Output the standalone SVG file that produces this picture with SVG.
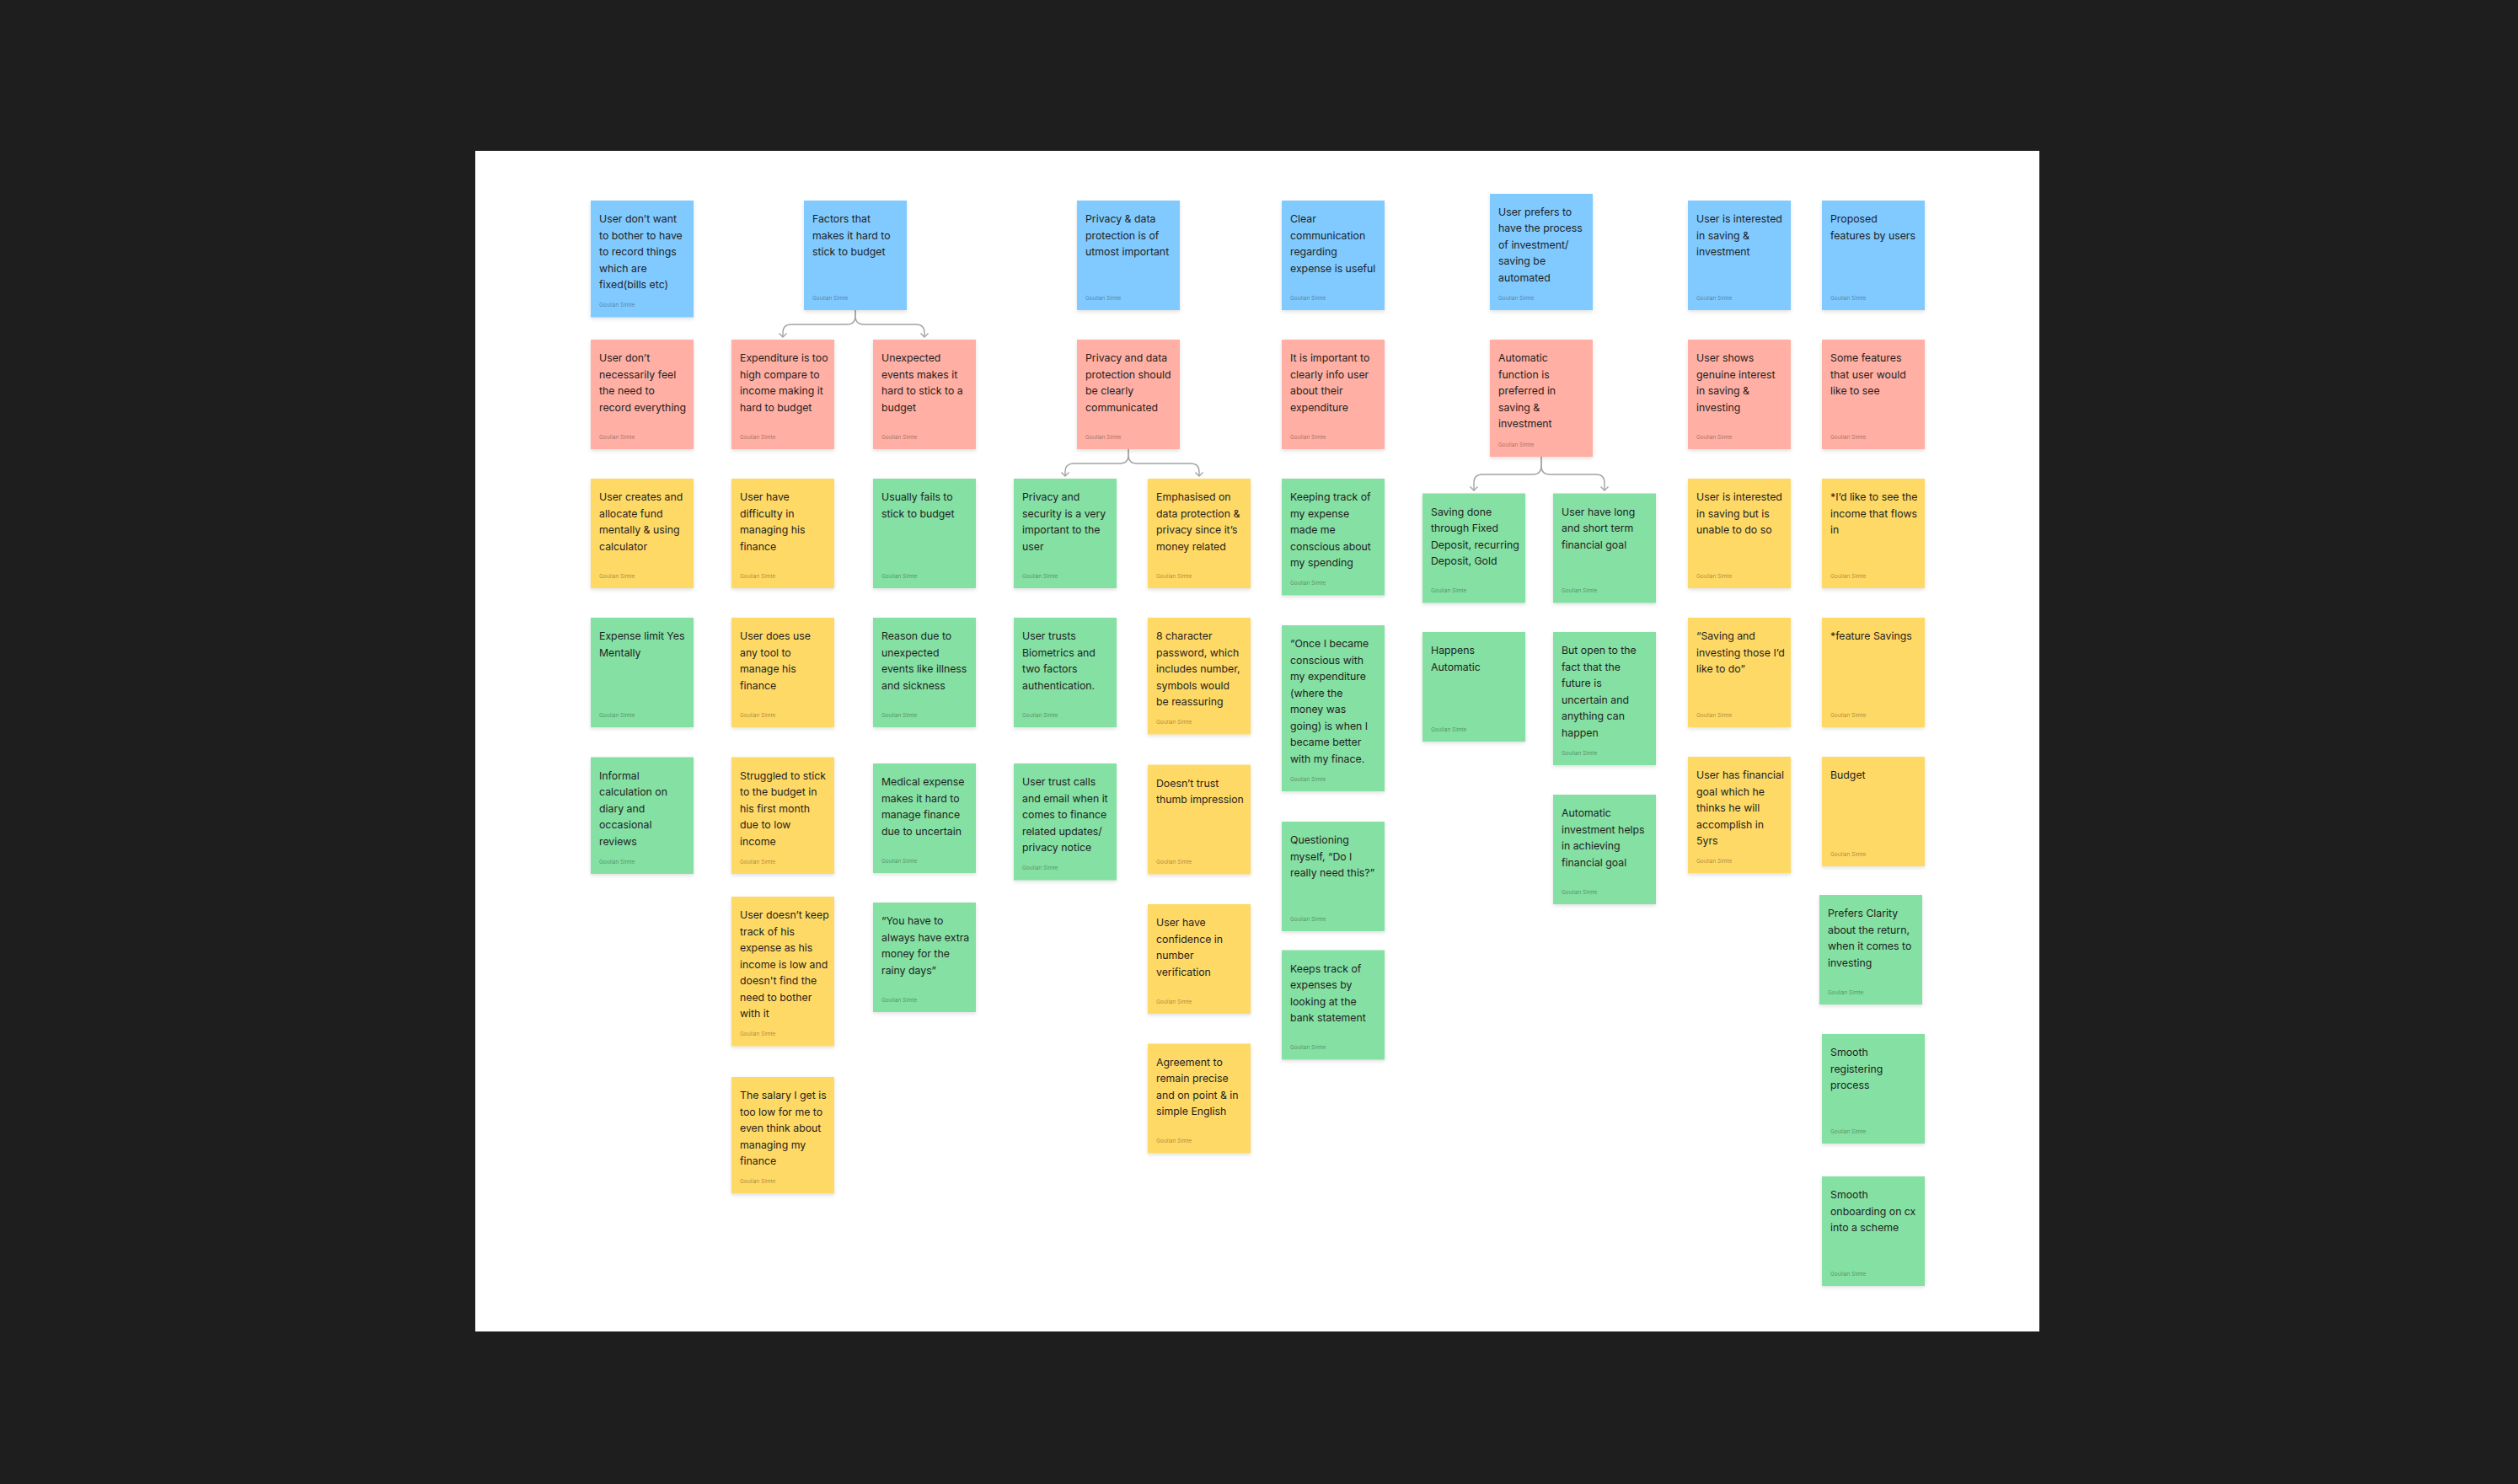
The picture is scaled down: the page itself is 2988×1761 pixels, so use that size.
<svg xmlns="http://www.w3.org/2000/svg" width="2988" height="1761" viewBox="0 0 2988 1761">
<style>
.bg{fill:#1e1e1e}
.board{fill:#ffffff}
.sticky{filter:url(#sh)}
.blue{fill:#80caff}
.red{fill:#ffafa3}
.yellow{fill:#ffd966}
.green{fill:#85e0a3}
.t{font-family:Inter,"Noto Sans","Liberation Sans",sans-serif;font-size:12.3px;fill:#1e1e1e}
.a{font-family:Inter,"Noto Sans","Liberation Sans",sans-serif;font-size:6.5px;fill:#000;fill-opacity:0.4}
.conn{fill:none;stroke:#a3a3a3;stroke-width:1.4}
</style>
<defs>
<filter id="sh" x="-10%" y="-10%" width="120%" height="130%">
<feDropShadow dx="0" dy="2" stdDeviation="2" flood-color="#000" flood-opacity="0.12"/>
</filter>
<marker id="arr" viewBox="-6 -6 12 12" markerWidth="12" markerHeight="12" markerUnits="userSpaceOnUse" orient="auto" refX="0" refY="0">
<path d="M-4.5,-4.5 L0,0 L-4.5,4.5" fill="none" stroke="#a3a3a3" stroke-width="1.4"/>
</marker>
</defs>
<rect class="bg" x="0" y="0" width="2988" height="1761"/>
<rect class="board" x="564" y="179" width="1856" height="1401"/>

<g id="connectors">
<path class="conn" marker-end="url(#arr)" d="M1015,368 L1015,375 Q1015,385 1005,385 L939,385 Q929,385 929,395 L929,400"/>
<path class="conn" marker-end="url(#arr)" d="M1015,368 L1015,375 Q1015,385 1025,385 L1087,385 Q1097,385 1097,395 L1097,400"/>
<path class="conn" marker-end="url(#arr)" d="M1339,533 L1339,540 Q1339,550 1329,550 L1274,550 Q1264,550 1264,560 L1264,565"/>
<path class="conn" marker-end="url(#arr)" d="M1339,533 L1339,540 Q1339,550 1349,550 L1413,550 Q1423,550 1423,560 L1423,565"/>
<path class="conn" marker-end="url(#arr)" d="M1829,542 L1829,553 Q1829,563 1819,563 L1759,563 Q1749,563 1749,573 L1749,582"/>
<path class="conn" marker-end="url(#arr)" d="M1829,542 L1829,553 Q1829,563 1839,563 L1894,563 Q1904,563 1904,573 L1904,582"/>
</g>

<!-- Column 1 -->
<g id="n1" transform="translate(701,238)"><rect class="sticky blue" width="122" height="138.5"/><text class="t" x="10" y="26"><tspan x="10">User don’t want</tspan><tspan x="10" dy="19.5">to bother to have</tspan><tspan x="10" dy="19.5">to record things</tspan><tspan x="10" dy="19.5">which are</tspan><tspan x="10" dy="19.5">fixed(bills etc)</tspan></text><text class="a" x="10" y="126">Goulian Simte</text></g>
<g id="n2" transform="translate(701,403)"><rect class="sticky red" width="122" height="130"/><text class="t" x="10" y="26"><tspan x="10">User don’t</tspan><tspan x="10" dy="19.5">necessarily feel</tspan><tspan x="10" dy="19.5">the need to</tspan><tspan x="10" dy="19.5">record everything</tspan></text><text class="a" x="10" y="117.5">Goulian Simte</text></g>
<g id="n3" transform="translate(701,568)"><rect class="sticky yellow" width="122" height="130"/><text class="t" x="10" y="26"><tspan x="10">User creates and</tspan><tspan x="10" dy="19.5">allocate fund</tspan><tspan x="10" dy="19.5">mentally &amp; using</tspan><tspan x="10" dy="19.5">calculator</tspan></text><text class="a" x="10" y="117.5">Goulian Simte</text></g>
<g id="n4" transform="translate(701,733)"><rect class="sticky green" width="122" height="130"/><text class="t" x="10" y="26"><tspan x="10">Expense limit Yes</tspan><tspan x="10" dy="19.5">Mentally</tspan></text><text class="a" x="10" y="117.5">Goulian Simte</text></g>
<g id="n5" transform="translate(701,898.5)"><rect class="sticky green" width="122" height="138.5"/><text class="t" x="10" y="26"><tspan x="10">Informal</tspan><tspan x="10" dy="19.5">calculation on</tspan><tspan x="10" dy="19.5">diary and</tspan><tspan x="10" dy="19.5">occasional</tspan><tspan x="10" dy="19.5">reviews</tspan></text><text class="a" x="10" y="126">Goulian Simte</text></g>

<!-- Column 2 -->
<g id="n6" transform="translate(954,238)"><rect class="sticky blue" width="122" height="130"/><text class="t" x="10" y="26"><tspan x="10">Factors that</tspan><tspan x="10" dy="19.5">makes it hard to</tspan><tspan x="10" dy="19.5">stick to budget</tspan></text><text class="a" x="10" y="117.5">Goulian Simte</text></g>
<g id="n7" transform="translate(868,403)"><rect class="sticky red" width="122" height="130"/><text class="t" x="10" y="26"><tspan x="10">Expenditure is too</tspan><tspan x="10" dy="19.5">high compare to</tspan><tspan x="10" dy="19.5">income making it</tspan><tspan x="10" dy="19.5">hard to budget</tspan></text><text class="a" x="10" y="117.5">Goulian Simte</text></g>
<g id="n8" transform="translate(868,568)"><rect class="sticky yellow" width="122" height="130"/><text class="t" x="10" y="26"><tspan x="10">User have</tspan><tspan x="10" dy="19.5">difficulty in</tspan><tspan x="10" dy="19.5">managing his</tspan><tspan x="10" dy="19.5">finance</tspan></text><text class="a" x="10" y="117.5">Goulian Simte</text></g>
<g id="n9" transform="translate(868,733)"><rect class="sticky yellow" width="122" height="130"/><text class="t" x="10" y="26"><tspan x="10">User does use</tspan><tspan x="10" dy="19.5">any tool to</tspan><tspan x="10" dy="19.5">manage his</tspan><tspan x="10" dy="19.5">finance</tspan></text><text class="a" x="10" y="117.5">Goulian Simte</text></g>
<g id="n10" transform="translate(868,898.5)"><rect class="sticky yellow" width="122" height="138.5"/><text class="t" x="10" y="26"><tspan x="10">Struggled to stick</tspan><tspan x="10" dy="19.5">to the budget in</tspan><tspan x="10" dy="19.5">his first month</tspan><tspan x="10" dy="19.5">due to low</tspan><tspan x="10" dy="19.5">income</tspan></text><text class="a" x="10" y="126">Goulian Simte</text></g>
<g id="n11" transform="translate(868,1064)"><rect class="sticky yellow" width="122" height="177.5"/><text class="t" x="10" y="26"><tspan x="10">User doesn’t keep</tspan><tspan x="10" dy="19.5">track of his</tspan><tspan x="10" dy="19.5">expense as his</tspan><tspan x="10" dy="19.5">income is low and</tspan><tspan x="10" dy="19.5">doesn't find the</tspan><tspan x="10" dy="19.5">need to bother</tspan><tspan x="10" dy="19.5">with it</tspan></text><text class="a" x="10" y="165">Goulian Simte</text></g>
<g id="n12" transform="translate(868,1278)"><rect class="sticky yellow" width="122" height="138.5"/><text class="t" x="10" y="26"><tspan x="10">The salary I get is</tspan><tspan x="10" dy="19.5">too low for me to</tspan><tspan x="10" dy="19.5">even think about</tspan><tspan x="10" dy="19.5">managing my</tspan><tspan x="10" dy="19.5">finance</tspan></text><text class="a" x="10" y="126">Goulian Simte</text></g>

<!-- Column 3 -->
<g id="n13" transform="translate(1036,403)"><rect class="sticky red" width="122" height="130"/><text class="t" x="10" y="26"><tspan x="10">Unexpected</tspan><tspan x="10" dy="19.5">events makes it</tspan><tspan x="10" dy="19.5">hard to stick to a</tspan><tspan x="10" dy="19.5">budget</tspan></text><text class="a" x="10" y="117.5">Goulian Simte</text></g>
<g id="n14" transform="translate(1036,568)"><rect class="sticky green" width="122" height="130"/><text class="t" x="10" y="26"><tspan x="10">Usually fails to</tspan><tspan x="10" dy="19.5">stick to budget</tspan></text><text class="a" x="10" y="117.5">Goulian Simte</text></g>
<g id="n15" transform="translate(1036,733)"><rect class="sticky green" width="122" height="130"/><text class="t" x="10" y="26"><tspan x="10">Reason due to</tspan><tspan x="10" dy="19.5">unexpected</tspan><tspan x="10" dy="19.5">events like illness</tspan><tspan x="10" dy="19.5">and sickness</tspan></text><text class="a" x="10" y="117.5">Goulian Simte</text></g>
<g id="n16" transform="translate(1036,906)"><rect class="sticky green" width="122" height="130"/><text class="t" x="10" y="26"><tspan x="10">Medical expense</tspan><tspan x="10" dy="19.5">makes it hard to</tspan><tspan x="10" dy="19.5">manage finance</tspan><tspan x="10" dy="19.5">due to uncertain</tspan></text><text class="a" x="10" y="117.5">Goulian Simte</text></g>
<g id="n17" transform="translate(1036,1071)"><rect class="sticky green" width="122" height="130"/><text class="t" x="10" y="26"><tspan x="10">“You have to</tspan><tspan x="10" dy="19.5">always have extra</tspan><tspan x="10" dy="19.5">money for the</tspan><tspan x="10" dy="19.5">rainy days”</tspan></text><text class="a" x="10" y="117.5">Goulian Simte</text></g>

<!-- Column 4 -->
<g id="n18" transform="translate(1278,238)"><rect class="sticky blue" width="122" height="130"/><text class="t" x="10" y="26"><tspan x="10">Privacy &amp; data</tspan><tspan x="10" dy="19.5">protection is of</tspan><tspan x="10" dy="19.5">utmost important</tspan></text><text class="a" x="10" y="117.5">Goulian Simte</text></g>
<g id="n19" transform="translate(1278,403)"><rect class="sticky red" width="122" height="130"/><text class="t" x="10" y="26"><tspan x="10">Privacy and data</tspan><tspan x="10" dy="19.5">protection should</tspan><tspan x="10" dy="19.5">be clearly</tspan><tspan x="10" dy="19.5">communicated</tspan></text><text class="a" x="10" y="117.5">Goulian Simte</text></g>
<g id="n20" transform="translate(1203,568)"><rect class="sticky green" width="122" height="130"/><text class="t" x="10" y="26"><tspan x="10">Privacy and</tspan><tspan x="10" dy="19.5">security is a very</tspan><tspan x="10" dy="19.5">important to the</tspan><tspan x="10" dy="19.5">user</tspan></text><text class="a" x="10" y="117.5">Goulian Simte</text></g>
<g id="n21" transform="translate(1203,733)"><rect class="sticky green" width="122" height="130"/><text class="t" x="10" y="26"><tspan x="10">User trusts</tspan><tspan x="10" dy="19.5">Biometrics and</tspan><tspan x="10" dy="19.5">two factors</tspan><tspan x="10" dy="19.5">authentication.</tspan></text><text class="a" x="10" y="117.5">Goulian Simte</text></g>
<g id="n22" transform="translate(1203,906)"><rect class="sticky green" width="122" height="138.5"/><text class="t" x="10" y="26"><tspan x="10">User trust calls</tspan><tspan x="10" dy="19.5">and email when it</tspan><tspan x="10" dy="19.5">comes to finance</tspan><tspan x="10" dy="19.5">related updates/</tspan><tspan x="10" dy="19.5">privacy notice</tspan></text><text class="a" x="10" y="126">Goulian Simte</text></g>

<!-- Column 5 -->
<g id="n23" transform="translate(1362,568)"><rect class="sticky yellow" width="122" height="130"/><text class="t" x="10" y="26"><tspan x="10">Emphasised on</tspan><tspan x="10" dy="19.5">data protection &amp;</tspan><tspan x="10" dy="19.5">privacy since it’s</tspan><tspan x="10" dy="19.5">money related</tspan></text><text class="a" x="10" y="117.5">Goulian Simte</text></g>
<g id="n24" transform="translate(1362,733)"><rect class="sticky yellow" width="122" height="138.5"/><text class="t" x="10" y="26"><tspan x="10">8 character</tspan><tspan x="10" dy="19.5">password, which</tspan><tspan x="10" dy="19.5">includes number,</tspan><tspan x="10" dy="19.5">symbols would</tspan><tspan x="10" dy="19.5">be reassuring</tspan></text><text class="a" x="10" y="126">Goulian Simte</text></g>
<g id="n25" transform="translate(1362,907.5)"><rect class="sticky yellow" width="122" height="130"/><text class="t" x="10" y="26"><tspan x="10">Doesn’t trust</tspan><tspan x="10" dy="19.5">thumb impression</tspan></text><text class="a" x="10" y="117.5">Goulian Simte</text></g>
<g id="n26" transform="translate(1362,1073)"><rect class="sticky yellow" width="122" height="130"/><text class="t" x="10" y="26"><tspan x="10">User have</tspan><tspan x="10" dy="19.5">confidence in</tspan><tspan x="10" dy="19.5">number</tspan><tspan x="10" dy="19.5">verification</tspan></text><text class="a" x="10" y="117.5">Goulian Simte</text></g>
<g id="n27" transform="translate(1362,1238.5)"><rect class="sticky yellow" width="122" height="130"/><text class="t" x="10" y="26"><tspan x="10">Agreement to</tspan><tspan x="10" dy="19.5">remain precise</tspan><tspan x="10" dy="19.5">and on point &amp; in</tspan><tspan x="10" dy="19.5">simple English</tspan></text><text class="a" x="10" y="117.5">Goulian Simte</text></g>

<!-- Column 6 -->
<g id="n28" transform="translate(1521,238)"><rect class="sticky blue" width="122" height="130"/><text class="t" x="10" y="26"><tspan x="10">Clear</tspan><tspan x="10" dy="19.5">communication</tspan><tspan x="10" dy="19.5">regarding</tspan><tspan x="10" dy="19.5">expense is useful</tspan></text><text class="a" x="10" y="117.5">Goulian Simte</text></g>
<g id="n29" transform="translate(1521,403)"><rect class="sticky red" width="122" height="130"/><text class="t" x="10" y="26"><tspan x="10">It is important to</tspan><tspan x="10" dy="19.5">clearly info user</tspan><tspan x="10" dy="19.5">about their</tspan><tspan x="10" dy="19.5">expenditure</tspan></text><text class="a" x="10" y="117.5">Goulian Simte</text></g>
<g id="n30" transform="translate(1521,568)"><rect class="sticky green" width="122" height="138.5"/><text class="t" x="10" y="26"><tspan x="10">Keeping track of</tspan><tspan x="10" dy="19.5">my expense</tspan><tspan x="10" dy="19.5">made me</tspan><tspan x="10" dy="19.5">conscious about</tspan><tspan x="10" dy="19.5">my spending</tspan></text><text class="a" x="10" y="126">Goulian Simte</text></g>
<g id="n31" transform="translate(1521,742)"><rect class="sticky green" width="122" height="197"/><text class="t" x="10" y="26"><tspan x="10">“Once I became</tspan><tspan x="10" dy="19.5">conscious with</tspan><tspan x="10" dy="19.5">my expenditure</tspan><tspan x="10" dy="19.5">(where the</tspan><tspan x="10" dy="19.5">money was</tspan><tspan x="10" dy="19.5">going) is when I</tspan><tspan x="10" dy="19.5">became better</tspan><tspan x="10" dy="19.5">with my finace.</tspan></text><text class="a" x="10" y="184.5">Goulian Simte</text></g>
<g id="n32" transform="translate(1521,975)"><rect class="sticky green" width="122" height="130"/><text class="t" x="10" y="26"><tspan x="10">Questioning</tspan><tspan x="10" dy="19.5">myself, “Do I</tspan><tspan x="10" dy="19.5">really need this?”</tspan></text><text class="a" x="10" y="117.5">Goulian Simte</text></g>
<g id="n33" transform="translate(1521,1127.5)"><rect class="sticky green" width="122" height="130"/><text class="t" x="10" y="26"><tspan x="10">Keeps track of</tspan><tspan x="10" dy="19.5">expenses by</tspan><tspan x="10" dy="19.5">looking at the</tspan><tspan x="10" dy="19.5">bank statement</tspan></text><text class="a" x="10" y="117.5">Goulian Simte</text></g>

<!-- Column 7/8 -->
<g id="n34" transform="translate(1768,230)"><rect class="sticky blue" width="122" height="138"/><text class="t" x="10" y="25.5"><tspan x="10">User prefers to</tspan><tspan x="10" dy="19.5">have the process</tspan><tspan x="10" dy="19.5">of investment/</tspan><tspan x="10" dy="19.5">saving be</tspan><tspan x="10" dy="19.5">automated</tspan></text><text class="a" x="10" y="125.5">Goulian Simte</text></g>
<g id="n35" transform="translate(1768,403)"><rect class="sticky red" width="122" height="139"/><text class="t" x="10" y="26"><tspan x="10">Automatic</tspan><tspan x="10" dy="19.5">function is</tspan><tspan x="10" dy="19.5">preferred in</tspan><tspan x="10" dy="19.5">saving &amp;</tspan><tspan x="10" dy="19.5">investment</tspan></text><text class="a" x="10" y="126.5">Goulian Simte</text></g>
<g id="n36" transform="translate(1688,585.5)"><rect class="sticky green" width="122" height="130"/><text class="t" x="10" y="26"><tspan x="10">Saving done</tspan><tspan x="10" dy="19.5">through Fixed</tspan><tspan x="10" dy="19.5">Deposit, recurring</tspan><tspan x="10" dy="19.5">Deposit, Gold</tspan></text><text class="a" x="10" y="117.5">Goulian Simte</text></g>
<g id="n37" transform="translate(1688,750)"><rect class="sticky green" width="122" height="130"/><text class="t" x="10" y="26"><tspan x="10">Happens</tspan><tspan x="10" dy="19.5">Automatic</tspan></text><text class="a" x="10" y="117.5">Goulian Simte</text></g>
<g id="n38" transform="translate(1843,585.5)"><rect class="sticky green" width="122" height="130"/><text class="t" x="10" y="26"><tspan x="10">User have long</tspan><tspan x="10" dy="19.5">and short term</tspan><tspan x="10" dy="19.5">financial goal</tspan></text><text class="a" x="10" y="117.5">Goulian Simte</text></g>
<g id="n39" transform="translate(1843,750)"><rect class="sticky green" width="122" height="158"/><text class="t" x="10" y="26"><tspan x="10">But open to the</tspan><tspan x="10" dy="19.5">fact that the</tspan><tspan x="10" dy="19.5">future is</tspan><tspan x="10" dy="19.5">uncertain and</tspan><tspan x="10" dy="19.5">anything can</tspan><tspan x="10" dy="19.5">happen</tspan></text><text class="a" x="10" y="145.5">Goulian Simte</text></g>
<g id="n40" transform="translate(1843,943)"><rect class="sticky green" width="122" height="130"/><text class="t" x="10" y="26"><tspan x="10">Automatic</tspan><tspan x="10" dy="19.5">investment helps</tspan><tspan x="10" dy="19.5">in achieving</tspan><tspan x="10" dy="19.5">financial goal</tspan></text><text class="a" x="10" y="117.5">Goulian Simte</text></g>

<!-- Column 9 -->
<g id="n41" transform="translate(2003,238)"><rect class="sticky blue" width="122" height="130"/><text class="t" x="10" y="26"><tspan x="10">User is interested</tspan><tspan x="10" dy="19.5">in saving &amp;</tspan><tspan x="10" dy="19.5">investment</tspan></text><text class="a" x="10" y="117.5">Goulian Simte</text></g>
<g id="n42" transform="translate(2003,403)"><rect class="sticky red" width="122" height="130"/><text class="t" x="10" y="26"><tspan x="10">User shows</tspan><tspan x="10" dy="19.5">genuine interest</tspan><tspan x="10" dy="19.5">in saving &amp;</tspan><tspan x="10" dy="19.5">investing</tspan></text><text class="a" x="10" y="117.5">Goulian Simte</text></g>
<g id="n43" transform="translate(2003,568)"><rect class="sticky yellow" width="122" height="130"/><text class="t" x="10" y="26"><tspan x="10">User is interested</tspan><tspan x="10" dy="19.5">in saving but is</tspan><tspan x="10" dy="19.5">unable to do so</tspan></text><text class="a" x="10" y="117.5">Goulian Simte</text></g>
<g id="n44" transform="translate(2003,733)"><rect class="sticky yellow" width="122" height="130"/><text class="t" x="10" y="26"><tspan x="10">“Saving and</tspan><tspan x="10" dy="19.5">investing those I’d</tspan><tspan x="10" dy="19.5">like to do”</tspan></text><text class="a" x="10" y="117.5">Goulian Simte</text></g>
<g id="n45" transform="translate(2003,898)"><rect class="sticky yellow" width="122" height="138.5"/><text class="t" x="10" y="26"><tspan x="10">User has financial</tspan><tspan x="10" dy="19.5">goal which he</tspan><tspan x="10" dy="19.5">thinks he will</tspan><tspan x="10" dy="19.5">accomplish in</tspan><tspan x="10" dy="19.5">5yrs</tspan></text><text class="a" x="10" y="126">Goulian Simte</text></g>

<!-- Column 10 -->
<g id="n46" transform="translate(2162,238)"><rect class="sticky blue" width="122" height="130"/><text class="t" x="10" y="26"><tspan x="10">Proposed</tspan><tspan x="10" dy="19.5">features by users</tspan></text><text class="a" x="10" y="117.5">Goulian Simte</text></g>
<g id="n47" transform="translate(2162,403)"><rect class="sticky red" width="122" height="130"/><text class="t" x="10" y="26"><tspan x="10">Some features</tspan><tspan x="10" dy="19.5">that user would</tspan><tspan x="10" dy="19.5">like to see</tspan></text><text class="a" x="10" y="117.5">Goulian Simte</text></g>
<g id="n48" transform="translate(2162,568)"><rect class="sticky yellow" width="122" height="130"/><text class="t" x="10" y="26"><tspan x="10">*I’d like to see the</tspan><tspan x="10" dy="19.5">income that flows</tspan><tspan x="10" dy="19.5">in</tspan></text><text class="a" x="10" y="117.5">Goulian Simte</text></g>
<g id="n49" transform="translate(2162,733)"><rect class="sticky yellow" width="122" height="130"/><text class="t" x="10" y="26"><tspan x="10">*feature Savings</tspan></text><text class="a" x="10" y="117.5">Goulian Simte</text></g>
<g id="n50" transform="translate(2162,898)"><rect class="sticky yellow" width="122" height="130"/><text class="t" x="10" y="26"><tspan x="10">Budget</tspan></text><text class="a" x="10" y="117.5">Goulian Simte</text></g>
<g id="n51" transform="translate(2159,1062)"><rect class="sticky green" width="122" height="130"/><text class="t" x="10" y="26"><tspan x="10">Prefers Clarity</tspan><tspan x="10" dy="19.5">about the return,</tspan><tspan x="10" dy="19.5">when it comes to</tspan><tspan x="10" dy="19.5">investing</tspan></text><text class="a" x="10" y="117.5">Goulian Simte</text></g>
<g id="n52" transform="translate(2162,1227)"><rect class="sticky green" width="122" height="130"/><text class="t" x="10" y="26"><tspan x="10">Smooth</tspan><tspan x="10" dy="19.5">registering</tspan><tspan x="10" dy="19.5">process</tspan></text><text class="a" x="10" y="117.5">Goulian Simte</text></g>
<g id="n53" transform="translate(2162,1396)"><rect class="sticky green" width="122" height="130"/><text class="t" x="10" y="26"><tspan x="10">Smooth</tspan><tspan x="10" dy="19.5">onboarding on cx</tspan><tspan x="10" dy="19.5">into a scheme</tspan></text><text class="a" x="10" y="117.5">Goulian Simte</text></g>
</svg>
